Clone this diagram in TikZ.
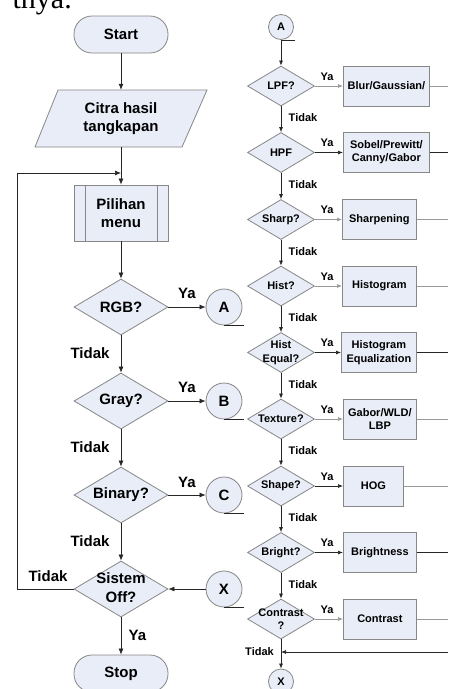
\documentclass[tikz,border=0pt]{standalone}
\usepackage{fontspec}
\setmainfont{Liberation Sans}
\newfontfamily\docserif{Liberation Serif}
\usetikzlibrary{shapes.geometric,arrows.meta}
\definecolor{boxfill}{RGB}{232,237,247}
\definecolor{boxline}{RGB}{135,135,135}
\tikzset{
  base/.style={draw=boxline, fill=boxfill, line width=0.8pt, inner sep=0pt},
  term/.style={base, rectangle, rounded corners=18pt, minimum width=94pt, minimum height=37pt, font=\bfseries\fontsize{15}{18.3}\selectfont},
  procbox/.style={base, rectangle, minimum width=94pt, minimum height=56pt, align=center, font=\bfseries\fontsize{15}{18.3}\selectfont},
  bigdia/.style={base, diamond, minimum width=94pt, minimum height=56pt},
  smalldia/.style={base, diamond, minimum width=67pt, minimum height=40pt},
  bigcirc/.style={base, circle, minimum size=36pt, font=\bfseries\fontsize{15}{18}\selectfont},
  smallcirc/.style={base, circle, minimum size=25pt, font=\bfseries\fontsize{11}{13}\selectfont},
  rbox/.style={base, rectangle, minimum height=40pt, anchor=west, align=center, font=\bfseries\fontsize{11}{13.3}\selectfont},
  ltxt/.style={font=\bfseries\fontsize{15}{18.6}\selectfont, inner sep=0pt, align=center},
  stxt/.style={font=\bfseries\fontsize{11}{13.3}\selectfont, inner sep=0pt, align=center},
  yal/.style={font=\bfseries\fontsize{11}{12}\selectfont, inner sep=0pt},
  dk/.style={draw=black!85, line width=0.7pt},
  lt/.style={draw=black!40, line width=0.7pt},
  arr/.style={-{Latex[length=6pt,width=5pt]}},
  sarr/.style={-{Latex[length=5pt,width=4pt]}},
}
\begin{document}
\begin{tikzpicture}[x=1pt,y=-1pt]
\path[use as bounding box, clip] (0,0) rectangle (448,689);
\fill[white] (0,0) rectangle (448,689);
\node[anchor=base east, inner sep=0pt, font=\docserif\fontsize{30}{34}\selectfont] (frag) at (72,8) {tnya.};

% ---------------- left column ----------------
\node[term] (start) at (121,34.5) {Start};
\filldraw[draw=boxline, fill=boxfill, line width=0.8pt] (58,90) -- (207,90) -- (182,147) -- (35,147) -- cycle;
\node[ltxt, minimum height=57pt, minimum width=120pt] (citra) at (121,118.5) {Citra hasil\\tangkapan};
\node[procbox] (pil) at (121,213) {Pilihan\\menu};
\draw[draw=boxline, line width=0.8pt] ([xshift=12pt]pil.north west) -- ([xshift=12pt]pil.south west);
\draw[draw=boxline, line width=0.8pt] ([xshift=-11pt]pil.north east) -- ([xshift=-11pt]pil.south east);
\coordinate (merge) at (121,173);
\coordinate (loopc) at (17,173);

\node[bigdia] (rgb) at (121,307) {};
\node[ltxt] (trgb) at (rgb) {RGB?};
\node[bigdia] (gray) at (121,401) {};
\node[ltxt] (tgray) at (gray) {Gray?};
\node[bigdia] (bin) at (121,495) {};
\node[ltxt] (tbin) at (bin) {Binary?};
\node[bigdia] (off) at (121,589) {};
\node[ltxt, font=\bfseries\fontsize{15}{19}\selectfont] (toff) at (121,588) {Sistem\\Off?};
\node[term] (stop) at (121,673.5) {Stop};

\node[bigcirc] (ca) at (224,307) {A};
\node[bigcirc] (cb) at (224,401) {B};
\node[bigcirc] (cc) at (224,495) {C};
\node[bigcirc] (cx) at (224,589) {X};
\foreach \c in {ca,cb,cc,cx} \draw[dk, line width=0.6pt] (\c.south) -- ++(20,0);

\draw[dk,arr] (start.south) -- (citra.north);
\draw[dk,arr] (citra.south) -- (pil.north);
\draw[dk,arr] (pil.south) -- (rgb.north);
\draw[dk,arr] (rgb.south) -- (gray.north);
\draw[dk,arr] (gray.south) -- (bin.north);
\draw[dk,arr] (bin.south) -- (off.north);
\draw[dk,arr] (off.south) -- (stop.north);
\draw[dk,arr] (rgb.east) -- (ca.west);
\draw[dk,arr] (gray.east) -- (cb.west);
\draw[dk,arr] (bin.east) -- (cc.west);
\draw[dk,arr] (cx.west) -- (off.east);
\draw[dk,arr] (off.west) -| (loopc) -- (merge);

\node[ltxt] (ly1) at (187,293) {Ya};
\node[ltxt] (ly2) at (187,387) {Ya};
\node[ltxt] (ly3) at (187,482) {Ya};
\node[ltxt] (lt1) at (90,353) {Tidak};
\node[ltxt] (lt2) at (90,447) {Tidak};
\node[ltxt] (lt3) at (90,541) {Tidak};
\node[ltxt] (lt4) at (48,576) {Tidak};
\node[ltxt] (ly4) at (137.5,635) {Ya};

% ---------------- right column ----------------
\node[smallcirc] (ra) at (281,27) {A};
\draw[dk, line width=0.6pt] (ra.south) -- ++(14,0);

\node[smalldia] (d1) at (281,86) {};    \node[stxt] (t1) at (d1) {LPF?};
\node[smalldia] (d2) at (281,152.5) {}; \node[stxt] (t2) at (d2) {HPF};
\node[smalldia] (d3) at (281,219.5) {}; \node[stxt] (t3) at (d3) {Sharp?};
\node[smalldia] (d4) at (281,286) {};   \node[stxt] (t4) at (d4) {Hist?};
\node[smalldia] (d5) at (281,352.5) {}; \node[stxt] (t5) at (d5) {Hist\\Equal?};
\node[smalldia] (d6) at (281,419) {};   \node[stxt] (t6) at (d6) {Texture?};
\node[smalldia] (d7) at (281,486) {};   \node[stxt] (t7) at (d7) {Shape?};
\node[smalldia] (d8) at (281,552.5) {}; \node[stxt] (t8) at (d8) {Bright?};
\node[smalldia] (d9) at (281,619) {};   \node[stxt] (t9) at (d9) {Contrast\\?};

\node[rbox, minimum width=86pt] (b1) at (343,86) {Blur/Gaussian/};
\node[rbox, minimum width=86pt] (b2) at (343,152.5) {Sobel/Prewitt/\\Canny/Gabor};
\node[rbox, minimum width=74pt] (b3) at (342,219.5) {Sharpening};
\node[rbox, minimum width=74pt] (b4) at (342,286) {Histogram};
\node[rbox, minimum width=75pt] (b5) at (341,352.5) {Histogram\\Equalization};
\node[rbox, minimum width=73pt] (b6) at (343,419) {Gabor/WLD/\\LBP};
\node[rbox, minimum width=60pt] (b7) at (343,486) {HOG};
\node[rbox, minimum width=73pt] (b8) at (343,552.5) {Brightness};
\node[rbox, minimum width=73pt] (b9) at (343,619) {Contrast};

\foreach \i/\yy in {1/86,2/152.5,3/219.5,4/286,5/352.5,6/419,7/486,8/552.5,9/619}
  \coordinate (e\i) at (448,\yy);

\node[smallcirc] (rx) at (281,681.5) {X};
\coordinate (ret) at (448,652);
\coordinate (retin) at (281,652);

% vertical "Tidak" arrows
\draw[dk,sarr] (ra.south) -- (d1.north);
\draw[dk,sarr] (d1.south) -- (d2.north);
\draw[dk,sarr] (d2.south) -- (d3.north);
\draw[dk,sarr] (d3.south) -- (d4.north);
\draw[dk,sarr] (d4.south) -- (d5.north);
\draw[dk,sarr] (d5.south) -- (d6.north);
\draw[dk,sarr] (d6.south) -- (d7.north);
\draw[dk,sarr] (d7.south) -- (d8.north);
\draw[dk,sarr] (d8.south) -- (d9.north);
\draw[dk,sarr] (d9.south) -- (rx.north);
\draw[dk,sarr] (ret) -- (retin);

% "Ya" arrows and outgoing lines
\draw[lt,sarr] (d1.east) -- (b1.west); \draw[lt] (b1.east) -- (e1);
\draw[dk,sarr] (d2.east) -- (b2.west); \draw[dk] (b2.east) -- (e2);
\draw[lt,sarr] (d3.east) -- (b3.west); \draw[lt] (b3.east) -- (e3);
\draw[lt,sarr] (d4.east) -- (b4.west); \draw[lt] (b4.east) -- (e4);
\draw[dk,sarr] (d5.east) -- (b5.west); \draw[dk] (b5.east) -- (e5);
\draw[lt,sarr] (d6.east) -- (b6.west); \draw[lt] (b6.east) -- (e6);
\draw[dk,sarr] (d7.east) -- (b7.west); \draw[lt] (b7.east) -- (e7);
\draw[dk,sarr] (d8.east) -- (b8.west); \draw[dk] (b8.east) -- (e8);
\draw[lt,sarr] (d9.east) -- (b9.west); \draw[lt] (b9.east) -- (e9);

\foreach \i/\yy in {1/86,2/152.5,3/219.5,4/286,5/352.5,6/419,7/486,8/552.5,9/619}
  \node[yal] (ry\i) at (327,\yy-9.5) {Ya};
\foreach \i/\yy in {1/86,2/152.5,3/219.5,4/286,5/352.5,6/419,7/486,8/552.5}
  \node[stxt] (rt\i) at (303,\yy+32) {Tidak};
\node[stxt] (rt9) at (259.5,652) {Tidak};
\end{tikzpicture}
\end{document}
